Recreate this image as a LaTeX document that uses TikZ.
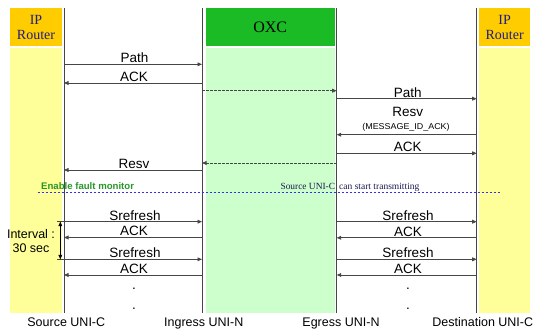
\documentclass[tikz,border=0pt]{standalone}
\usepackage{fontspec}
\setmainfont{Liberation Serif}
\newfontfamily\arialf{Liberation Sans}
\usetikzlibrary{arrows.meta}
\definecolor{hdrorange}{RGB}{255,204,0}
\definecolor{lyellow}{RGB}{255,255,153}
\definecolor{hdrgreen}{RGB}{26,187,37}
\definecolor{lgreen}{RGB}{204,255,204}
\definecolor{navy}{RGB}{30,30,130}
\definecolor{darknavy}{RGB}{25,25,80}
\definecolor{lifegray}{RGB}{70,70,70}
\definecolor{fgreen}{RGB}{40,150,40}
\definecolor{dblue}{RGB}{50,50,235}
\begin{document}
\begin{tikzpicture}[x=1pt,y=-1pt,
  life/.style={draw=lifegray, line width=0.9pt},
  msg/.style={draw=lifegray, line width=0.75pt, -{Triangle[length=4.5pt,width=3.8pt]}},
  dmsg/.style={msg, dash pattern=on 2.5pt off 1.5pt},
  both/.style={draw=black, line width=0.7pt, {Triangle[length=4.5pt,width=3.8pt]}-{Triangle[length=4.5pt,width=3.8pt]}},
  lbl/.style={font=\arialf\fontsize{13.5}{13.5}\selectfont, anchor=base, inner sep=0pt},
  small/.style={font=\arialf\fontsize{8.5}{8.5}\selectfont, anchor=base, inner sep=0pt},
  bottomlbl/.style={font=\arialf\fontsize{12.5}{12.5}\selectfont, anchor=base, inner sep=0pt},
  hdr/.style={inner sep=0pt, minimum height=38pt, align=center},
  body/.style={inner sep=0pt, minimum height=265pt},
  routertext/.style={text=navy, font=\fontsize{14}{15}\selectfont},
  note/.style={inner sep=0pt, anchor=base west},
]
\useasboundingbox (0,0) rectangle (541,329);

% columns
\node[hdr, fill=hdrorange, minimum width=52pt, routertext] (srcHdr) at (36,27) {IP\\Router};
\node[body, fill=lyellow, minimum width=52pt] (srcBody) at (36,180.5) {};
\node[hdr, fill=hdrgreen, minimum width=129.5pt, font=\fontsize{16}{16}\selectfont] (oxcHdr) at (270.25,27) {OXC};
\node[body, fill=lgreen, minimum width=129.5pt] (oxcBody) at (270.25,180.5) {};
\node[hdr, fill=hdrorange, minimum width=50.7pt, routertext] (dstHdr) at (504.65,27) {IP\\Router};
\node[body, fill=lyellow, minimum width=50.7pt] (dstBody) at (504.65,180.5) {};

% lifelines
\coordinate (S0) at (64,8);   \coordinate (S1) at (64,313);
\coordinate (I0) at (202,8);  \coordinate (I1) at (202,313);
\coordinate (E0) at (336.7,8);\coordinate (E1) at (336.7,313);
\coordinate (D0) at (476.7,8);\coordinate (D1) at (476.7,313);
\draw[life] (S0) -- (S1);
\draw[life] (I0) -- (I1);
\draw[life] (E0) -- (E1);
\draw[life] (D0) -- (D1);

% message end points
\coordinate (m1a) at (64,64.3);   \coordinate (m1b) at (202,64.3);
\coordinate (m2a) at (202,83);    \coordinate (m2b) at (64,83);
\coordinate (m3a) at (202,90.7);  \coordinate (m3b) at (336.7,90.7);
\coordinate (m4a) at (336.7,98.7);\coordinate (m4b) at (476.7,98.7);
\coordinate (m5a) at (476.7,134.7);\coordinate (m5b) at (336.7,134.7);
\coordinate (m6a) at (336.7,153.3);\coordinate (m6b) at (476.7,153.3);
\coordinate (m7a) at (336.7,163);\coordinate (m7b) at (202,163);
\coordinate (m8a) at (202,170);   \coordinate (m8b) at (64,170);

\draw[msg] (m1a) -- (m1b);
\draw[msg] (m2a) -- (m2b);
\draw[dmsg] (m3a) -- (m3b);
\draw[msg] (m4a) -- (m4b);
\draw[msg] (m5a) -- (m5b);
\draw[msg] (m6a) -- (m6b);
\draw[dmsg] (m7a) -- (m7b);
\draw[msg] (m8a) -- (m8b);

\node[lbl] (l1) at (134.5,62.5) {Path};
\node[lbl] (l2) at (134,81.3) {ACK};
\node[lbl] (l4) at (407.8,97) {Path};
\node[lbl] (l5) at (407.8,116.6) {Resv};
\node[small] (l5b) at (406,129.2) {\scalebox{1.05}[1]{(MESSAGE\_ID\_ACK)}};
\node[lbl] (l6) at (407.8,151.6) {ACK};
\node[lbl] (l8) at (134,168.3) {Resv};

% separator
\coordinate (sepA) at (37.7,192.2);
\coordinate (sepB) at (501.7,192.2);
\draw[dblue, line width=0.6pt, dash pattern=on 2.5pt off 1.5pt] (sepA) -- (sepB);
\node[note, text=fgreen, font=\arialf\bfseries\fontsize{9.6}{9.6}\selectfont] (enable) at (41,189.5) {Enable fault monitor};
\node[inner sep=0pt, anchor=base east, text=darknavy, font=\fontsize{9.4}{9.4}\selectfont] (srcnote) at (335.3,189.3) {Source UNI-C};
\node[note, text=darknavy, font=\fontsize{9.5}{9.5}\selectfont] (cannote) at (339,189.3) {can start transmitting};

% refresh phase
\coordinate (r1a) at (57.3,221.7); \coordinate (r1b) at (202,221.7);
\coordinate (r2a) at (202,237.5);  \coordinate (r2b) at (64,237.5);
\coordinate (r3a) at (57.3,259.3); \coordinate (r3b) at (202,259.3);
\coordinate (r4a) at (202,275);    \coordinate (r4b) at (64,275);
\coordinate (q1a) at (336.7,221.7);\coordinate (q1b) at (476.7,221.7);
\coordinate (q2a) at (476.7,237.8);\coordinate (q2b) at (336.7,237.8);
\coordinate (q3a) at (336.7,259.3);\coordinate (q3b) at (476.7,259.3);
\coordinate (q4a) at (476.7,275);  \coordinate (q4b) at (336.7,275);
\draw[msg] (r1a) -- (r1b);
\draw[msg] (r2a) -- (r2b);
\draw[msg] (r3a) -- (r3b);
\draw[msg] (r4a) -- (r4b);
\draw[msg] (q1a) -- (q1b);
\draw[msg] (q2a) -- (q2b);
\draw[msg] (q3a) -- (q3b);
\draw[msg] (q4a) -- (q4b);

\node[lbl] (s1) at (135,220) {Srefresh};
\node[lbl] (s2) at (134,235.8) {ACK};
\node[lbl] (s3) at (135,257.6) {Srefresh};
\node[lbl] (s4) at (134,273.3) {ACK};
\node[lbl] (t1) at (408,220) {Srefresh};
\node[lbl] (t2) at (408,236.1) {ACK};
\node[lbl] (t3) at (408,257.6) {Srefresh};
\node[lbl] (t4) at (408,273.3) {ACK};

% interval
\coordinate (iv0) at (60.3,221.7);
\coordinate (iv1) at (60.3,259.3);
\draw[both] (iv0) -- (iv1);
\node[bottomlbl] (ivl1) at (31,238.2) {Interval :};
\node[bottomlbl] (ivl2) at (31,252.5) {30 sec};

% continuation dots
\node[lbl] (d1) at (134,289) {.};
\node[lbl] (d2) at (134,309) {.};
\node[lbl] (d3) at (408,289) {.};
\node[lbl] (d4) at (408,309) {.};

% bottom labels
\node[bottomlbl] (bS) at (66.3,326.8) {Source UNI-C};
\node[bottomlbl] (bI) at (203.8,326.8) {Ingress UNI-N};
\node[bottomlbl] (bE) at (341,326.8) {Egress UNI-N};
\node[bottomlbl] (bD) at (482.8,326.8) {Destination UNI-C};
\end{tikzpicture}
\end{document}
